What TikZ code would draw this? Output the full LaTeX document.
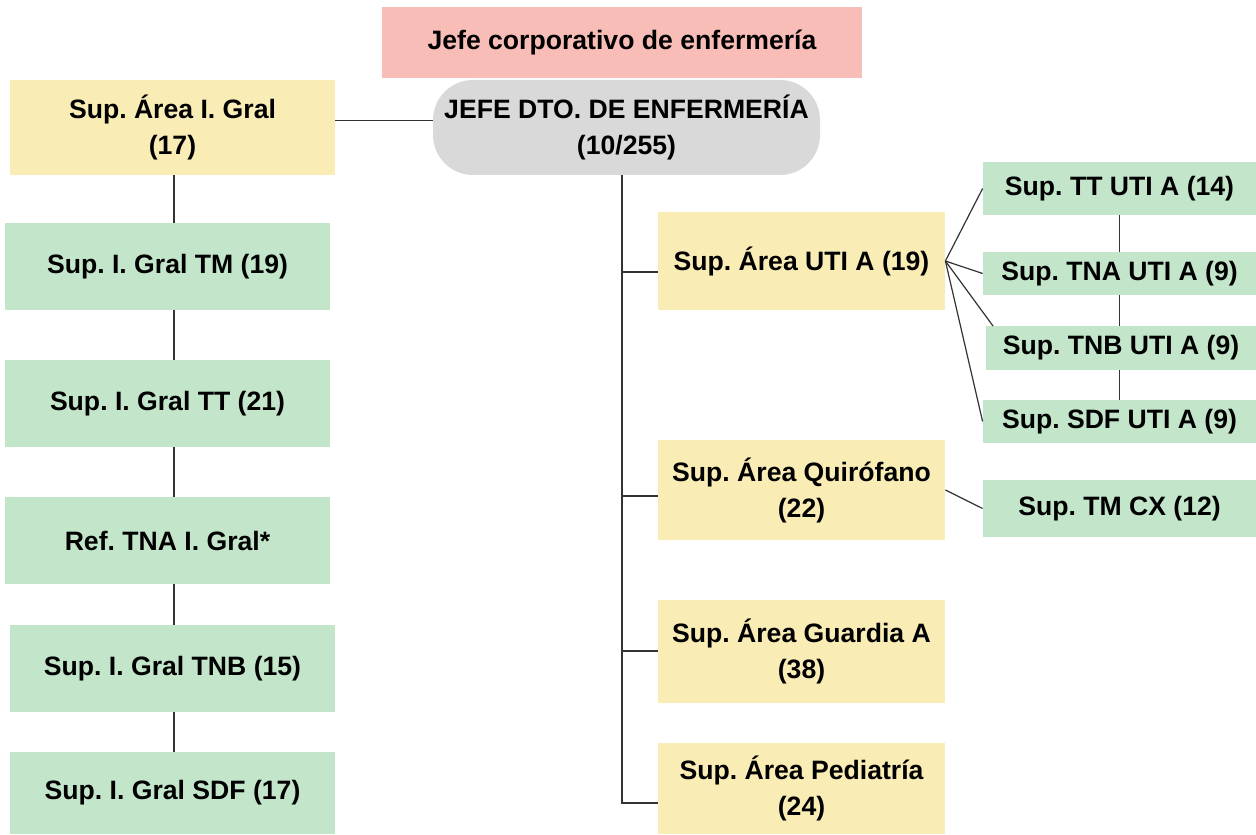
\documentclass[tikz,border=0pt]{standalone}
\usepackage{fontspec}
\setmainfont{Liberation Sans}
\definecolor{cpink}{HTML}{F8BDB7}
\definecolor{cyel}{HTML}{F9ECB5}
\definecolor{cgreen}{HTML}{C3E6CB}
\definecolor{cgray}{HTML}{D9D9D9}
\newcommand\bx[7]{\node[#2, minimum width={(#5-#3)*0.5pt}, minimum height={(#6-#4)*0.5pt}] (#1) at ({(#3+#5)/2},{(#4+#6)/2}) {#7};}
\frenchspacing
\begin{document}
\begin{tikzpicture}[x=0.5pt,y=-0.5pt,
  base/.style={inner sep=0pt, align=center, font=\fontsize{13.3}{18}\selectfont\bfseries},
  pinkbox/.style={base, fill=cpink},
  graybox/.style={base, fill=cgray, rounded corners=20pt},
  ybox/.style={base, fill=cyel},
  gbox/.style={base, fill=cgreen},
  conn/.style={draw=black!80, line width=0.6pt}]
\useasboundingbox (0,0) rectangle (1256,834);
\fill[white] (0,0) rectangle (1256,834);
\bx{corp}{pinkbox}{382}{7}{862}{78}{Jefe corporativo de enfermería}
\bx{jefe}{graybox}{433}{80}{820}{175}{JEFE DTO. DE ENFERMERÍA\\(10/255)}
\bx{ig}{ybox}{10}{80}{335}{175}{Sup. Área I. Gral\\(17)}
\bx{tm}{gbox}{5}{223}{330}{310}{Sup. I. Gral TM (19)}
\bx{tt}{gbox}{5}{360}{330}{447}{Sup. I. Gral TT (21)}
\bx{ref}{gbox}{5}{497}{330}{584}{Ref. TNA I. Gral*}
\bx{tnbl}{gbox}{10}{625}{335}{712}{Sup. I. Gral TNB (15)}
\bx{sdfl}{gbox}{10}{752}{335}{834}{Sup. I. Gral SDF (17)}
\bx{uti}{ybox}{658}{212}{945}{310}{Sup. Área UTI A (19)}
\bx{qui}{ybox}{658}{440}{945}{540}{Sup. Área Quirófano\\(22)}
\bx{gua}{ybox}{658}{600}{945}{703}{Sup. Área Guardia A\\(38)}
\bx{ped}{ybox}{658}{743}{945}{834}{Sup. Área Pediatría\\(24)}
\bx{ttu}{gbox}{983}{162}{1256}{215}{Sup. TT UTI A (14)}
\bx{tnau}{gbox}{983}{252}{1256}{295}{Sup. TNA UTI A (9)}
\bx{tnbu}{gbox}{986}{326}{1256}{370}{Sup. TNB UTI A (9)}
\bx{sdfu}{gbox}{983}{400}{1256}{443}{Sup. SDF UTI A (9)}
\bx{cx}{gbox}{983}{480}{1256}{537}{Sup. TM CX (12)}
% left chain
\coordinate (lx) at (174,0);
\draw[conn] ([yshift=3.5pt]ig.east) -- ([yshift=3.5pt]jefe.west);
\draw[conn] (ig.south -| lx) -- (tm.north -| lx);
\draw[conn] (tm.south -| lx) -- (tt.north -| lx);
\draw[conn] (tt.south -| lx) -- (ref.north -| lx);
\draw[conn] (ref.south -| lx) -- (tnbl.north -| lx);
\draw[conn] (tnbl.south -| lx) -- (sdfl.north -| lx);
% trunk
\coordinate (b1) at (622,272);
\coordinate (b2) at (622,496);
\coordinate (b3) at (622,651);
\coordinate (b4) at (622,803);
\draw[conn] (jefe.south -| b1) -- (b4) -- (b4 -| ped.west);
\draw[conn] (b1) -- (b1 -| uti.west);
\draw[conn] (b2) -- (b2 -| qui.west);
\draw[conn] (b3) -- (b3 -| gua.west);
% UTI fan
\coordinate (tnbc) at (993,326);
\draw[conn] (uti.east) -- (ttu.west);
\draw[conn] (uti.east) -- (tnau.west);
\draw[conn] (uti.east) -- (tnbc);
\draw[conn] (uti.east) -- (sdfu.west);
\draw[conn] (ttu.south) -- (ttu.south |- tnau.north);
\draw[conn] (ttu.south |- tnau.south) -- (ttu.south |- tnbu.north);
\draw[conn] (ttu.south |- tnbu.south) -- (ttu.south |- sdfu.north);
\draw[conn] (qui.east) -- (cx.west);
\end{tikzpicture}
\end{document}
